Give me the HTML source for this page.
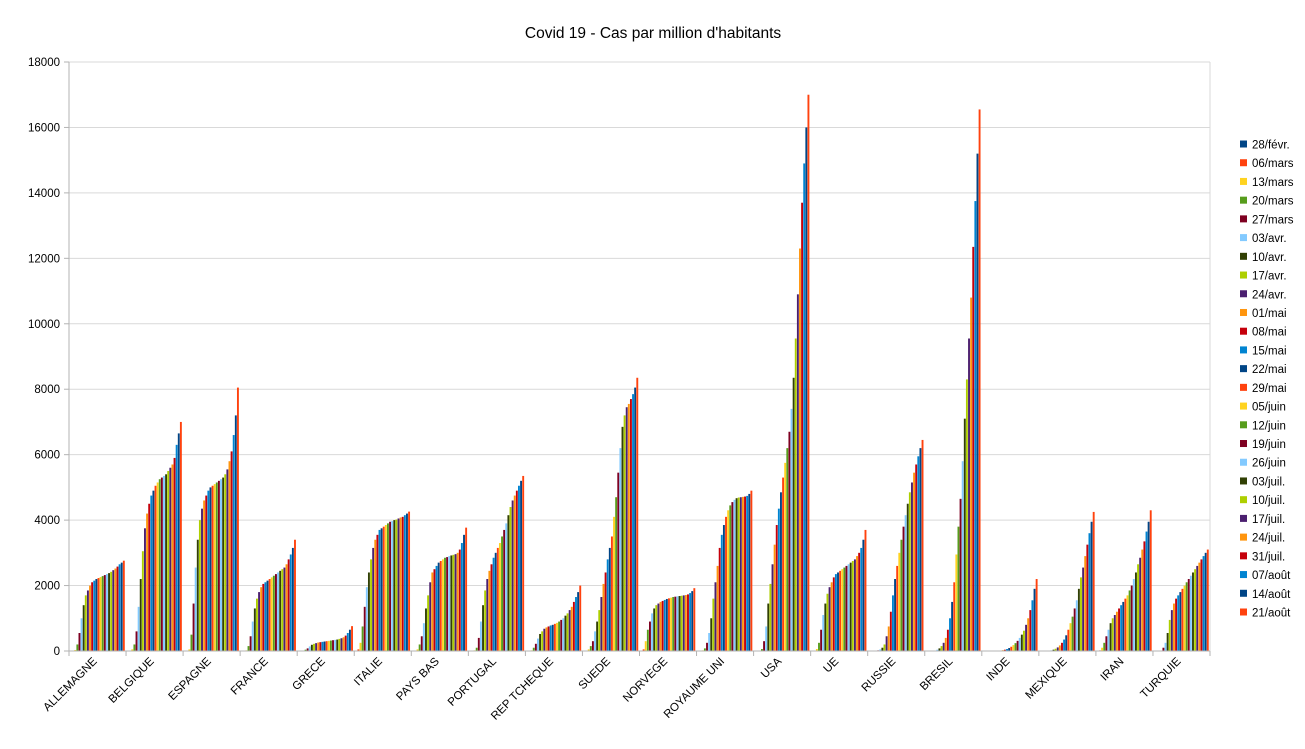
<!DOCTYPE html>
<html><head><meta charset="utf-8"><style>
body{margin:0;background:#fff;}
text{font-family:"Liberation Sans",sans-serif;}
</style></head><body>
<svg id="s" width="1305" height="744" xmlns="http://www.w3.org/2000/svg"></svg>
<script>
const s=document.getElementById('s');
const cols=['#004586','#ff420e','#ffd320','#579d1c','#7e0021','#83caff','#314004','#aecf00','#4b1f6f','#ff950e','#c5000b','#0084d1'];
const dates=['28/févr.','06/mars','13/mars','20/mars','27/mars','03/avr.','10/avr.','17/avr.','24/avr.','01/mai','08/mai','15/mai','22/mai','29/mai','05/juin','12/juin','19/juin','26/juin','03/juil.','10/juil.','17/juil.','24/juil.','31/juil.','07/août','14/août','21/août'];
const D=[
['ALLEMAGNE',[0,0,30,200,550,1000,1400,1700,1850,2000,2100,2150,2200,2230,2260,2290,2320,2350,2380,2420,2470,2520,2580,2650,2700,2760]],
['BELGIQUE',[0,0,50,200,600,1350,2200,3050,3750,4200,4500,4750,4900,5050,5150,5250,5300,5350,5400,5500,5600,5700,5900,6300,6650,7000]],
['ESPAGNE',[0,0,50,500,1450,2550,3400,4000,4350,4600,4750,4900,5000,5050,5100,5150,5200,5250,5300,5400,5550,5800,6100,6600,7200,8050]],
['FRANCE',[0,0,20,150,450,900,1300,1600,1800,1950,2050,2100,2150,2200,2250,2300,2350,2400,2450,2500,2550,2650,2800,2950,3150,3400]],
['GRECE',[0,0,10,40,80,140,190,220,240,260,270,280,290,300,310,320,330,340,350,370,390,420,470,550,650,760]],
['ITALIE',[10,50,250,750,1350,1950,2400,2800,3150,3400,3550,3700,3750,3800,3850,3900,3950,3970,4000,4020,4050,4080,4100,4150,4200,4260]],
['PAYS BAS',[0,10,50,200,450,850,1300,1700,2100,2400,2500,2600,2700,2750,2800,2850,2870,2900,2920,2940,2960,3000,3100,3300,3550,3770]],
['PORTUGAL',[0,0,20,100,400,900,1400,1850,2200,2450,2650,2850,3000,3150,3300,3500,3700,3900,4150,4400,4600,4750,4900,5050,5200,5350]],
['REP TCHEQUE',[0,0,20,100,220,380,520,600,680,720,750,780,800,830,860,900,950,1000,1080,1150,1250,1350,1500,1650,1800,2000]],
['SUEDE',[0,10,50,150,300,600,900,1250,1650,2050,2400,2800,3150,3500,4100,4700,5450,6200,6850,7200,7450,7550,7700,7850,8050,8350]],
['NORVEGE',[0,50,300,650,900,1150,1300,1400,1450,1500,1530,1560,1590,1610,1630,1650,1660,1670,1680,1690,1700,1710,1730,1770,1830,1920]],
['ROYAUME UNI',[0,5,20,80,250,550,1000,1600,2100,2600,3150,3550,3850,4100,4300,4450,4550,4620,4670,4690,4700,4710,4720,4740,4800,4900]],
['USA',[0,0,10,60,300,750,1450,2050,2650,3250,3850,4350,4850,5300,5750,6200,6700,7400,8350,9550,10900,12300,13700,14900,16000,17000]],
['UE',[0,10,60,250,650,1100,1450,1750,1950,2100,2250,2350,2400,2450,2500,2550,2600,2650,2700,2750,2800,2900,3000,3150,3400,3700]],
['RUSSIE',[0,0,0,5,20,50,100,200,450,750,1200,1700,2200,2600,3000,3400,3800,4150,4500,4850,5150,5450,5700,5950,6200,6450]],
['BRESIL',[0,0,0,5,15,40,80,150,250,400,650,1000,1500,2100,2950,3800,4650,5800,7100,8300,9550,10800,12350,13750,15200,16550]],
['INDE',[0,0,0,0,1,3,5,10,15,25,40,60,90,130,180,240,310,400,500,620,800,1000,1250,1550,1900,2200]],
['MEXIQUE',[0,0,0,2,10,20,40,70,110,170,250,350,480,650,850,1050,1300,1550,1900,2250,2550,2900,3250,3600,3950,4250]],
['IRAN',[0,20,100,250,450,650,850,1000,1100,1200,1300,1400,1500,1600,1700,1850,2000,2200,2400,2650,2850,3100,3350,3650,3950,4300]],
['TURQUIE',[0,0,0,5,100,250,550,950,1250,1450,1600,1700,1800,1900,2000,2100,2200,2300,2400,2500,2600,2700,2800,2900,3000,3100]]
];
const X0=69,X1=1210,Y0=651,Y1=62,gw=(X1-X0)/20,k=(Y0-Y1)/18000;
let h='';
h+=`<text x="653" y="38" font-size="15.5" text-anchor="middle" fill="#000">Covid 19 - Cas par million d'habitants</text>`;
for(let v=0;v<=18000;v+=2000){const y=Y0-v*k;
 h+=`<line x1="${X0}" x2="${X1}" y1="${y}" y2="${y}" stroke="#d9d9d9"/>`;
 h+=`<line x1="${X0-5}" x2="${X0}" y1="${y}" y2="${y}" stroke="#b3b3b3"/>`;
 h+=`<text x="${X0-9}" y="${y+4}" font-size="11.5" text-anchor="end">${v}</text>`;}
h+=`<line x1="${X1}" x2="${X1}" y1="${Y1}" y2="${Y0}" stroke="#d9d9d9"/>`;
const step=gw/27;
D.forEach((d,i)=>{const gx=X0+i*gw;
 d[1].forEach((v,j)=>{const bh=v*k;const x=gx+step*0.5+j*step;
  h+=`<rect x="${x.toFixed(2)}" y="${(Y0-bh).toFixed(2)}" width="${(step*0.9).toFixed(2)}" height="${bh.toFixed(2)}" fill="${cols[j%12]}"/>`;});
 h+=`<line x1="${gx}" x2="${gx}" y1="${Y0}" y2="${Y0+5}" stroke="#b3b3b3"/>`;
 const cx=gx+gw/2;
 h+=`<text transform="translate(${cx},${Y0+11}) rotate(-45)" font-size="11.5" text-anchor="end">${d[0]}</text>`;});
h+=`<line x1="${X1}" x2="${X1}" y1="${Y0}" y2="${Y0+5}" stroke="#b3b3b3"/>`;
h+=`<line x1="${X0}" x2="${X0}" y1="${Y1}" y2="${Y0}" stroke="#b3b3b3"/>`;
h+=`<line x1="${X0}" x2="${X1}" y1="${Y0}" y2="${Y0}" stroke="#b3b3b3"/>`;
dates.forEach((t,j)=>{const y=144+j*18.72;
 h+=`<rect x="1240" y="${y-3.5}" width="7" height="7" fill="${cols[j%12]}"/>`;
 h+=`<text x="1252" y="${y+4.5}" font-size="11.5">${t}</text>`;});
s.innerHTML=h;
</script>
</body></html>
